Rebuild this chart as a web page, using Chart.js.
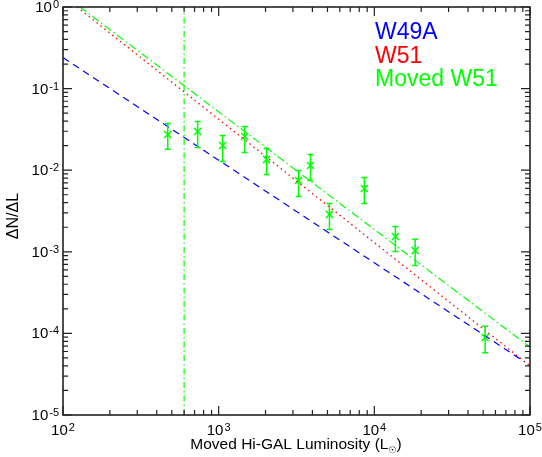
<!DOCTYPE html>
<html>
<head>
<meta charset="utf-8">
<script src="https://cdn.jsdelivr.net/npm/chart.js@4.4.1/dist/chart.umd.min.js"></script>
<style>
  html, body { margin: 0; padding: 0; background: #fff; }
  #wrap { width: 542px; height: 457px; }
</style>
</head>
<body>
<div id="wrap"><canvas id="c" width="542" height="457"></canvas></div>
<script>
const lumX  = [471, 733, 1062, 1469, 2032, 3260, 3890, 5150, 8630, 13650, 18300, 51500];
const dndl  = [0.0274, 0.0298, 0.0201, 0.0259, 0.0135, 0.00748, 0.0114, 0.00287, 0.00597, 0.00154, 0.00104, 8.9e-5];
const errHi = [0.0373, 0.0395, 0.0266, 0.0343, 0.0184, 0.0099, 0.0156, 0.00391, 0.00814, 0.00204, 0.00142, 1.22e-4];
const errLo = [0.0180, 0.0190, 0.0128, 0.0165, 0.00886, 0.00476, 0.00748, 0.00188, 0.00391, 0.00101, 0.00068, 5.8e-5];

// power-law fit lines (end points)
const w49aX  = [100, 92000];
const w49aY  = [0.240, 4.5e-5];
const w51X   = [123, 100000];
const w51Y   = [1, 4.0e-5];
const movedX = [128.5, 100000];
const movedY = [1, 6.8e-5];

// completeness limit
const cutX = [600, 600];
const cutY = [1e-5, 1];

const xTickExp = [2, 3, 4, 5];
const yTickExp = [0, -1, -2, -3, -4, -5];

const legendNames  = ['W49A', 'W51', 'Moved W51'];
const legendColors = ['#0000ff', '#ff0000', '#00ff00'];

const FONT = '"Liberation Sans", Arial, Helvetica, sans-serif';
const GREEN = '#00ff00';

function pts(xs, ys){ return xs.map((x, i) => ({x, y: ys[i]})); }

function drawPow(ctx, exp, x, y, align){
  const base = '10', sup = String(exp);
  ctx.font = '15px ' + FONT;
  const wb = ctx.measureText(base).width;
  ctx.font = '11px ' + FONT;
  const ws = ctx.measureText(sup).width;
  let x0 = align === 'right' ? x - wb - ws - 1 : x - (wb + ws + 1) / 2;
  ctx.textAlign = 'left';
  ctx.textBaseline = 'alphabetic';
  ctx.font = '15px ' + FONT;
  ctx.fillText(base, x0, y);
  ctx.font = '11px ' + FONT;
  ctx.fillText(sup, x0 + wb + 1, y - 4);
}

const decor = {
  id: 'decor',
  afterDatasetsDraw(chart){
    const ctx = chart.ctx, xs = chart.scales.x, ys = chart.scales.y;
    ctx.save();
    ctx.strokeStyle = GREEN;
    ctx.lineWidth = 1.5;
    lumX.forEach((lx, i) => {
      const px = xs.getPixelForValue(lx);
      const top = ys.getPixelForValue(errHi[i]);
      const bot = ys.getPixelForValue(errLo[i]);
      ctx.beginPath();
      ctx.moveTo(px, top); ctx.lineTo(px, bot);
      ctx.moveTo(px - 3, top); ctx.lineTo(px + 3, top);
      ctx.moveTo(px - 3, bot); ctx.lineTo(px + 3, bot);
      ctx.stroke();
    });
    ctx.restore();
  },
  afterDraw(chart){
    const ctx = chart.ctx, a = chart.chartArea;
    const xs = chart.scales.x, ys = chart.scales.y;
    ctx.save();
    ctx.strokeStyle = '#222';
    ctx.lineWidth = 1.6;
    ctx.strokeRect(a.left, a.top, a.right - a.left, a.bottom - a.top);

    ctx.lineWidth = 1.2;
    ctx.beginPath();
    // x ticks, bottom and top, pointing inward
    for(let d = 2; d <= 5; d++){
      for(let k = 1; k <= 9; k++){
        if(d === 5 && k > 1) break;
        const px = xs.getPixelForValue(k * Math.pow(10, d));
        const len = k === 1 ? 9 : 5;
        ctx.moveTo(px, a.bottom); ctx.lineTo(px, a.bottom - len);
        ctx.moveTo(px, a.top); ctx.lineTo(px, a.top + len);
      }
    }
    // y ticks, left and right
    for(let d = -5; d <= 0; d++){
      for(let k = 1; k <= 9; k++){
        if(d === 0 && k > 1) break;
        const py = ys.getPixelForValue(k * Math.pow(10, d));
        const len = k === 1 ? 9 : 5;
        ctx.moveTo(a.left, py); ctx.lineTo(a.left + len, py);
        ctx.moveTo(a.right, py); ctx.lineTo(a.right - len, py);
      }
    }
    ctx.stroke();

    // tick labels
    ctx.fillStyle = '#000';
    xTickExp.forEach(e => drawPow(ctx, e, xs.getPixelForValue(Math.pow(10, e)), a.bottom + 20, 'center'));
    yTickExp.forEach(e => drawPow(ctx, e, a.left - 4, ys.getPixelForValue(Math.pow(10, e)) + 5, 'right'));

    // x title with sun subscript
    const t1 = 'Moved Hi-GAL Luminosity (L', sun = '\u2609', t2 = ')';
    ctx.font = '15.5px ' + FONT;
    const w1 = ctx.measureText(t1).width, w2 = ctx.measureText(t2).width;
    ctx.font = '9px "DejaVu Sans", sans-serif';
    const ws = ctx.measureText(sun).width;
    let x0 = 296 - (w1 + ws + w2) / 2;
    ctx.textAlign = 'left';
    ctx.font = '15.5px ' + FONT;
    ctx.fillText(t1, x0, 449);
    ctx.font = '9px "DejaVu Sans", sans-serif';
    ctx.fillText(sun, x0 + w1, 453);
    ctx.font = '15.5px ' + FONT;
    ctx.fillText(t2, x0 + w1 + ws, 449);

    // y title
    ctx.save();
    ctx.translate(18, 216);
    ctx.rotate(-Math.PI / 2);
    ctx.textAlign = 'center';
    ctx.textBaseline = 'alphabetic';
    ctx.font = '16px ' + FONT;
    ctx.fillText('\u0394N/\u0394L', 0, 0);
    ctx.restore();

    // legend
    ctx.font = '23px ' + FONT;
    ctx.textAlign = 'left';
    legendNames.forEach((n, i) => {
      ctx.fillStyle = legendColors[i];
      ctx.fillText(n, 375, 39 + i * 23.5);
    });
    ctx.restore();
  }
};

new Chart(document.getElementById('c'), {
  type: 'scatter',
  data: {
    datasets: [
      { data: pts(w49aX, w49aY), showLine: true, borderColor: '#0000ff', borderWidth: 1.2, borderDash: [7, 5], pointRadius: 0 },
      { data: pts(w51X, w51Y), showLine: true, borderColor: '#ff0000', borderWidth: 1.3, borderDash: [1.5, 3.5], pointRadius: 0 },
      { data: pts(movedX, movedY), showLine: true, borderColor: GREEN, borderWidth: 1.2, borderDash: [8, 3, 1.5, 3], pointRadius: 0 },
      { data: pts(cutX, cutY), showLine: true, borderColor: GREEN, borderWidth: 1.2, borderDash: [6, 3, 1.5, 3], pointRadius: 0 },
      { data: pts(lumX, dndl), showLine: false, pointStyle: 'crossRot', pointRadius: 5, borderColor: GREEN, borderWidth: 1.5, backgroundColor: GREEN }
    ]
  },
  options: {
    responsive: false,
    animation: false,
    layout: { padding: { left: 63, right: 12, top: 7, bottom: 42 } },
    plugins: { legend: { display: false }, tooltip: { enabled: false } },
    scales: {
      x: { type: 'logarithmic', min: 100, max: 100000, display: false },
      y: { type: 'logarithmic', min: 1e-5, max: 1, display: false }
    }
  },
  plugins: [decor]
});
</script>
</body>
</html>
